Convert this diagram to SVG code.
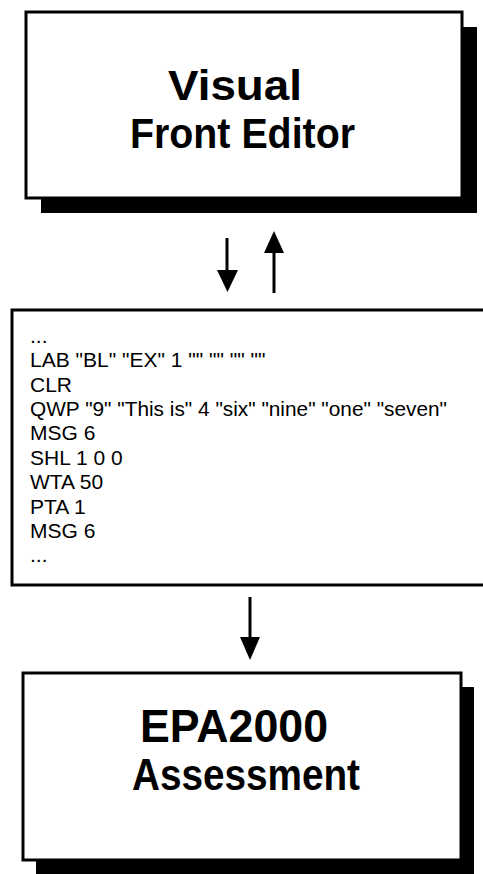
<svg xmlns="http://www.w3.org/2000/svg" width="483" height="874" viewBox="0 0 483 874">
<defs>
<style>
.box{fill:#fff;stroke:#000;stroke-width:3}
.shadow{fill:#000}
.title{font-family:"Liberation Sans",Arial,sans-serif;font-weight:bold;font-size:43px;fill:#000}
.code{font-family:"Liberation Sans",Arial,sans-serif;font-size:21px;fill:#000}
.conn{stroke:#000;stroke-width:3;fill:none}
.head{fill:#000}
</style>
</defs>
<rect width="483" height="874" fill="#fff"/>
<g id="node-editor">
<rect class="shadow" x="41" y="27" width="436" height="186"/>
<rect class="box" x="26" y="12" width="436" height="186"/>
<text class="title" x="168" y="100" textLength="134" lengthAdjust="spacingAndGlyphs">Visual</text>
<text class="title" x="130" y="148" textLength="225" lengthAdjust="spacingAndGlyphs">Front Editor</text>
</g>
<g id="node-script">
<rect class="box" x="12" y="310" width="480" height="275"/>
<text class="code" x="30" y="343">...</text>
<text class="code" x="30" y="367">LAB "BL" "EX" 1 "" "" "" ""</text>
<text class="code" x="30" y="391.5">CLR</text>
<text class="code" x="30" y="416" textLength="417" lengthAdjust="spacingAndGlyphs">QWP "9" "This is" 4 "six" "nine" "one" "seven"</text>
<text class="code" x="30" y="440">MSG 6</text>
<text class="code" x="30" y="464.5">SHL 1 0 0</text>
<text class="code" x="30" y="489">WTA 50</text>
<text class="code" x="30" y="513.5">PTA 1</text>
<text class="code" x="30" y="538">MSG 6</text>
<text class="code" x="30" y="562">...</text>
</g>
<g id="node-assessment">
<rect class="shadow" x="36" y="687" width="438" height="187"/>
<rect class="box" x="23" y="673" width="438" height="187"/>
<text class="title" style="font-size:46px" x="140" y="742" textLength="188" lengthAdjust="spacingAndGlyphs">EPA2000</text>
<text class="title" style="font-size:45px" x="132" y="790" textLength="228" lengthAdjust="spacingAndGlyphs">Assessment</text>
</g>
<g id="connectors">
<line class="conn" x1="227" y1="238" x2="227" y2="272"/>
<polygon class="head" points="217,270 238,270 227.5,292"/>
<line class="conn" x1="274" y1="251" x2="274" y2="293"/>
<polygon class="head" points="264,253 284,253 274,231"/>
<line class="conn" x1="250" y1="597" x2="250" y2="639"/>
<polygon class="head" points="240,637 260,637 250,660"/>
</g>
</svg>
